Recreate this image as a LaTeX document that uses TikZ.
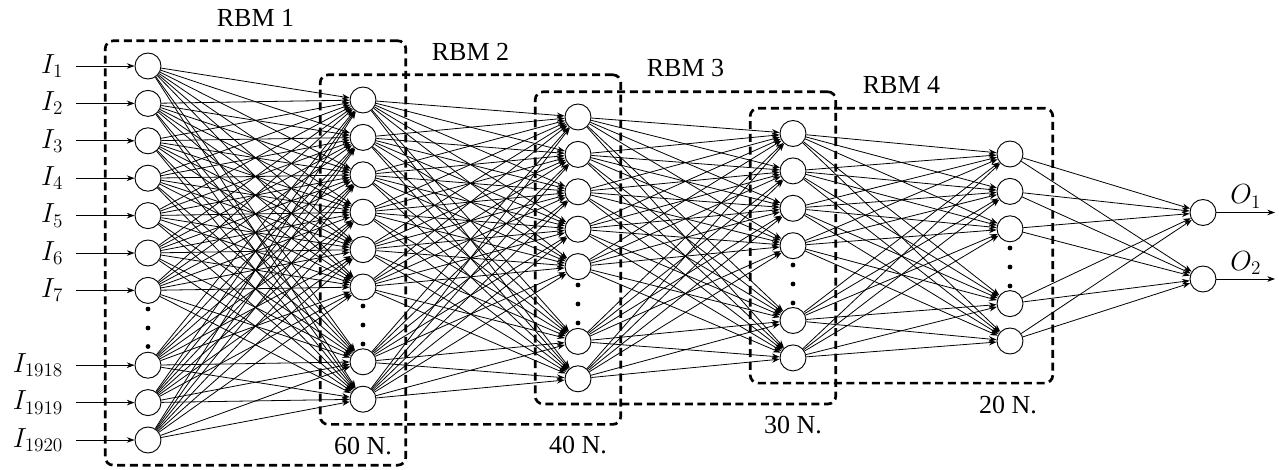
\documentclass[tikz,border=0pt]{standalone}
\usepackage[no-math]{fontspec}
\setmainfont{Liberation Serif}
\usetikzlibrary{arrows.meta,fit}
\begin{document}
\begin{tikzpicture}[x=0.75pt,y=-0.75pt,
  neuron/.style={circle, draw, fill=white, line width=0.7pt, minimum size=19.5pt, inner sep=0pt},
  link/.style={line width=0.6pt, -{Stealth[length=5.8pt,width=4.2pt]}},
  rbmbox/.style={draw, line width=2pt, dash pattern=on 6pt off 3.5pt, rounded corners=6pt,
                 inner xsep=22pt, inner ysep=8.8pt},
  dotmark/.style={circle, fill, inner sep=0pt, minimum size=3.6pt},
  lbl/.style={font=\fontsize{19.5}{23}\selectfont, inner sep=2pt},
  inlbl/.style={lbl, anchor=east, inner xsep=9.5pt}]
\useasboundingbox (0,0) rectangle (1279,470);

% layer 1: inputs
\foreach \n/\s in {1/0,2/1,3/2,4/3,5/4,6/5,7/6,1918/8,1919/9,1920/10}{
  \node[neuron] (a\n) at (148,66+37.4*\s) {};
  \node[inlbl] (in\n) at (76,66+37.4*\s) {$I_{\n}$};
  \draw[link] (in\n) -- (a\n);
}
% layer 2
\foreach \n/\s in {1/0,2/1,3/2,4/3,5/4,6/5,7/7,8/8}
  \node[neuron] (b\n) at (363,100+37.4*\s) {};
% layer 3
\foreach \n/\s in {1/0,2/1,3/2,4/3,5/4,6/6,7/7}
  \node[neuron] (c\n) at (578,117+37.4*\s) {};
% layer 4
\foreach \n/\s in {1/0,2/1,3/2,4/3,5/5,6/6}
  \node[neuron] (d\n) at (793,133.5+37.4*\s) {};
% layer 5
\foreach \n/\s in {1/0,2/1,3/2,4/4,5/5}
  \node[neuron] (e\n) at (1010,154+37.4*\s) {};
% outputs
\node[neuron] (o1) at (1203,212.5) {};
\node[neuron] (o2) at (1203,279) {};

% vertical ellipses for omitted units
\foreach \k/\y in {1/309,2/328,3/346.5} \node[dotmark] (pa\k) at (148,\y) {};
\foreach \k/\y in {1/306,2/325,3/344}   \node[dotmark] (pb\k) at (363,\y) {};
\foreach \k/\y in {1/285,2/304,3/323}   \node[dotmark] (pc\k) at (578,\y) {};
\foreach \k/\y in {1/265,2/284,3/303}   \node[dotmark] (pd\k) at (793,\y) {};
\foreach \k/\y in {1/248,2/267,3/286}   \node[dotmark] (pe\k) at (1010,\y) {};

% full connections between consecutive layers
\foreach \i in {1,2,3,4,5,6,7,1918,1919,1920}
  \foreach \j in {1,...,8} \draw[link] (a\i) -- (b\j);
\foreach \i in {1,...,8}
  \foreach \j in {1,...,7} \draw[link] (b\i) -- (c\j);
\foreach \i in {1,...,7}
  \foreach \j in {1,...,6} \draw[link] (c\i) -- (d\j);
\foreach \i in {1,...,6}
  \foreach \j in {1,...,5} \draw[link] (d\i) -- (e\j);
\foreach \i in {1,...,5}
  \foreach \j in {1,2} \draw[link] (e\i) -- (o\j);

% output arrows
\coordinate (oe1) at (1275,212.5);
\coordinate (oe2) at (1275,279);
\draw[link] (o1) -- (oe1) node[midway, above, lbl, yshift=1pt] (ol1) {$O_1$};
\draw[link] (o2) -- (oe2) node[midway, above, lbl, yshift=1pt] (ol2) {$O_2$};

% RBM groupings
\node[rbmbox, fit=(a1)(a1920)(b1)] (r1) {};
\node[rbmbox, fit=(b1)(b8)(c1)] (r2) {};
\node[rbmbox, fit=(c1)(c7)(d1)] (r3) {};
\node[rbmbox, fit=(d1)(d6)(e1)] (r4) {};
\node[lbl] (t1) at ([yshift=16.5pt]r1.north) {RBM 1};
\node[lbl] (t2) at ([yshift=16.5pt]r2.north) {RBM 2};
\node[lbl] (t3) at ([yshift=16.5pt]r3.north) {RBM 3};
\node[lbl] (t4) at ([yshift=16.5pt]r4.north) {RBM 4};

% layer sizes
\node[lbl] (n60) at (363,446) {60 N.};
\node[lbl] (n40) at (578,445) {40 N.};
\node[lbl] (n30) at (793,425) {30 N.};
\node[lbl] (n20) at (1008,405) {20 N.};
\end{tikzpicture}
\end{document}
